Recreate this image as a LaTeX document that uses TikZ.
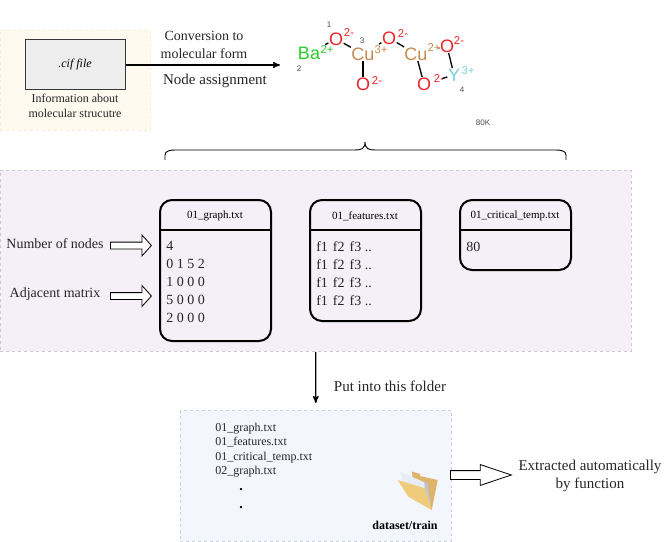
\documentclass[tikz,border=0pt]{standalone}
\usepackage{fontspec}
\setmainfont{Liberation Serif}
\newfontfamily\molfont{Liberation Sans}
\usepackage{tikz}
\usetikzlibrary{arrows,positioning,shapes.arrows,calc}
\definecolor{notefill}{HTML}{FEFAF0}
\definecolor{noteline}{HTML}{F5EED2}
\definecolor{panelfill}{HTML}{F5F0F7}
\definecolor{panelline}{HTML}{CFC8D3}
\definecolor{foldfill}{HTML}{F3F6FC}
\definecolor{foldline}{HTML}{C6D4E2}
\definecolor{oxy}{HTML}{EC2327}
\definecolor{copper}{HTML}{C58A4F}
\definecolor{barium}{HTML}{2BCB2B}
\definecolor{yttrium}{HTML}{79D3D8}
\definecolor{foldback}{HTML}{DDB468}
\definecolor{foldfront}{HTML}{EFCB7C}
\definecolor{foldpaper}{HTML}{E8ECF4}
\definecolor{foldshade}{HTML}{BFC5D2}

\begin{document}
\begin{tikzpicture}[x=0.75pt,y=-0.75pt,>=stealth',font=\fontsize{10.5pt}{13.5pt}\selectfont]
\tikzstyle{panel} = [rectangle, draw, dashed, dash pattern=on 2.25pt off 2.25pt, line width=0.6pt, inner sep=0pt, anchor=north west]
\tikzstyle{signal} = [draw,->,line width=0.9pt]
\tikzstyle{filebox} = [rectangle, draw, line width=1.5pt, rounded corners=9pt, inner sep=0pt, minimum width=83.25pt]
\tikzstyle{filetitle} = [font=\fontsize{8.25pt}{10pt}\selectfont, inner sep=0pt]
\tikzstyle{filebody} = [align=left, inner sep=0pt, anchor=north west, text=black!85]
\tikzstyle{largelabel} = [inner sep=0pt, text=black!85, font=\fontsize{11.25pt}{13.5pt}\selectfont]
\tikzstyle{hollow} = [single arrow, draw, fill=white, line width=0.6pt, inner xsep=0pt, shape border rotate=0, anchor=tail]
\tikzstyle{smallarrow} = [hollow, inner ysep=2.25pt, minimum height=30.75pt, single arrow head extend=5.25pt, single arrow tip angle=96]
\tikzstyle{atom} = [font=\fontsize{13.5pt}{14pt}\selectfont\molfont, inner sep=0.3pt]
\tikzstyle{charge} = [font=\fontsize{8.5pt}{10pt}\selectfont\molfont, inner sep=0.2pt]
\tikzstyle{index} = [font=\fontsize{6pt}{7pt}\selectfont\molfont, inner sep=0pt, text=black!70]
\tikzstyle{bond} = [draw, line width=1pt]

% backgrounds
\useasboundingbox (0,0) rectangle (672,542);
\node[panel, draw=noteline, fill=notefill, minimum width=112.5pt, minimum height=75pt] (notepanel) at (0,30) {};
\node[panel, draw=panelline, fill=panelfill, minimum width=473.25pt, minimum height=135.75pt] (filespanel) at (0,170) {};
\node[panel, draw=foldline, fill=foldfill, minimum width=203pt, minimum height=98.25pt] (folderpanel) at (180,410) {};

% cif file
\node[rectangle, draw=black!78, fill=black!7, line width=0.75pt, minimum width=75pt, minimum height=37.5pt, font=\fontsize{9pt}{11pt}\selectfont\itshape] (ciffile) at (75,65) {.cif file};
\node[below of=ciffile, node distance=30.5pt, align=center, inner sep=0pt, font=\fontsize{9pt}{11.25pt}\selectfont, text=black!85] (cifinfo) {Information about\\molecular strucutre};
\coordinate (atomtip) at (280,65);
\draw[signal] (ciffile) -- (atomtip);
\node[align=center, inner sep=0pt, text=black!85] (convlabel) at (204,44.5) {Conversion to\\molecular form};
\node[largelabel] (assignlabel) at (215,81) {Node assignment};

% molecule
\node[atom, text=barium] (ba) at (309,53) {Ba};
\node[atom, text=oxy] (o1) at (336,39) {O};
\node[atom, text=copper] (cu1) at (363,54) {Cu};
\node[atom, text=oxy] (o2) at (363,84) {O};
\node[atom, text=oxy] (o3) at (389,38) {O};
\node[atom, text=copper] (cu2) at (416,54) {Cu};
\node[atom, text=oxy] (o4) at (447,46) {O};
\node[atom, text=oxy] (o5) at (424,84) {O};
\node[atom, text=yttrium] (y) at (454,75) {Y};

\draw[bond, shorten <=3.75pt] (ba) -- (o1);
\draw[bond] (o1) -- (cu1);
\draw[bond] (cu1) -- (o2);
\draw[bond, shorten <=4pt] (cu1) -- (o3);
\draw[bond] (o3) -- (cu2);
\draw[bond, shorten <=8pt] (cu2) -- (o4);
\draw[bond] (cu2) -- (o5);
\draw[bond] (o4) -- (y);
\draw[bond, shorten <=8pt] (o5) -- (y);

\node[charge, text=barium] (baq) at (327,50) {2+};
\node[charge, text=oxy] (o1q) at (349,33) {2-};
\node[charge, text=copper] (cu1q) at (381,50) {3+};
\node[charge, text=oxy] (o2q) at (377,81) {2-};
\node[charge, text=oxy] (o3q) at (403,34) {2-};
\node[charge, text=copper] (cu2q) at (434,48) {2+};
\node[charge, text=oxy] (o4q) at (459,41) {2-};
\node[charge, text=oxy] (o5q) at (439,79) {2-};
\node[charge, text=yttrium] (yq) at (468,71) {3+};

\node[index] (idxa) at (329,25) {1};
\node[index] (idxb) at (299,69) {2};
\node[index] (idxc) at (362,41) {3};
\node[index] (idxd) at (462,90) {4};
\node[index] (tempk) at (483,123) {80K};

% brace
\coordinate (braceleft) at (165,160);
\coordinate (braceright) at (566,160);
\draw[line width=0.7pt] (braceleft) -- ++(0,-5) .. controls +(0,-4) and +(-5,0) .. ++(10,-5) -- (355,150) .. controls +(6,0) and +(0,7) .. (365,142) .. controls +(0,7) and +(-6,0) .. (375,150) -- (556,150) .. controls +(5,0) and +(0,-4) .. ($(braceright)+(0,-5)$) -- (braceright);

% text files
\node[filebox, minimum height=105.75pt] (graphfile) at (215.5,270.5) {};
\node[filebox, minimum height=90.75pt] (featfile) at (365.5,260.5) {};
\node[filebox, minimum height=52.5pt] (tempfile) at (515.5,235) {};
\foreach \f in {graphfile,featfile,tempfile}
  \draw[line width=1.2pt] ($(\f.north west)+(0,31)$) -- ($(\f.north east)+(0,31)$);
\node[filetitle] (graphtitle) at (215,216) {01\_graph.txt};
\node[filetitle, right of=graphtitle, node distance=112.5pt] (feattitle) {01\_features.txt};
\node[filetitle, right of=feattitle, node distance=112.5pt] (temptitle) {01\_critical\_temp.txt};
\node[filebody] (graphbody) at (166,241.5) {4\\0 1 5 2\\1 0 0 0\\5 0 0 0\\2 0 0 0};
\node[filebody] (featbody) at (316,241.5) {f1\hspace{3.75pt}f2\hspace{3.75pt}f3 ..\\f1\hspace{3.75pt}f2\hspace{3.75pt}f3 ..\\f1\hspace{3.75pt}f2\hspace{3.75pt}f3 ..\\f1\hspace{3.75pt}f2\hspace{3.75pt}f3 ..};
\node[filebody] (tempbody) at (466,241.5) {80};

% labels on the left
\node[inner sep=0pt, text=black!85] (nodecount) at (55,244) {Number of nodes};
\node[inner sep=0pt, text=black!85, below of=nodecount, node distance=37.5pt] (adjlabel) {Adjacent matrix};
\node[smallarrow] (countarrow) at (110,245.5) {};
\node[smallarrow] (adjarrow) at (110,296) {};

% into the folder
\draw[signal, shorten >=5.25pt] (filespanel) -- (folderpanel);
\node[largelabel] (putlabel) at (390,386) {Put into this folder};
\node[align=left, inner sep=0pt, anchor=north west, font=\fontsize{9pt}{10.9pt}\selectfont, text=black!85] (listing) at (215,422.5) {01\_graph.txt\\01\_features.txt\\01\_critical\_temp.txt\\02\_graph.txt};
\node[inner sep=0pt, font=\fontsize{10.5pt}{12pt}\selectfont\bfseries] (dotone) at (241,490) {.};
\node[inner sep=0pt, below of=dotone, node distance=13.5pt, font=\fontsize{10.5pt}{12pt}\selectfont\bfseries] (dottwo) {.};

% folder icon
\fill[foldback] (412,471.5) -- (420,474) -- (420,476) -- (437.7,480) -- (431.7,510) -- (414,490) -- cycle;
\fill[foldpaper] (400,471.5) -- (426.7,483.3) -- (429,503) -- (403,481.7) -- cycle;
\fill[foldshade] (424,481) -- (427.5,483) -- (431,507) -- (426,500) -- cycle;
\fill[foldfront] (397.7,480) -- (425,488.3) -- (431.7,510) -- (408.3,496.7) -- cycle;
\node[inner sep=0pt, font=\fontsize{9pt}{11pt}\selectfont\bfseries] (trainlabel) at (405,525) {dataset/train};

% extraction
\node[hollow, inner ysep=3pt, minimum height=45.75pt, single arrow head extend=4.5pt, single arrow tip angle=37] (extractarrow) at (450,475) {};
\node[largelabel, align=center] (extractlabel) at (590,476) {Extracted automatically\\by function};
\end{tikzpicture}
\end{document}
